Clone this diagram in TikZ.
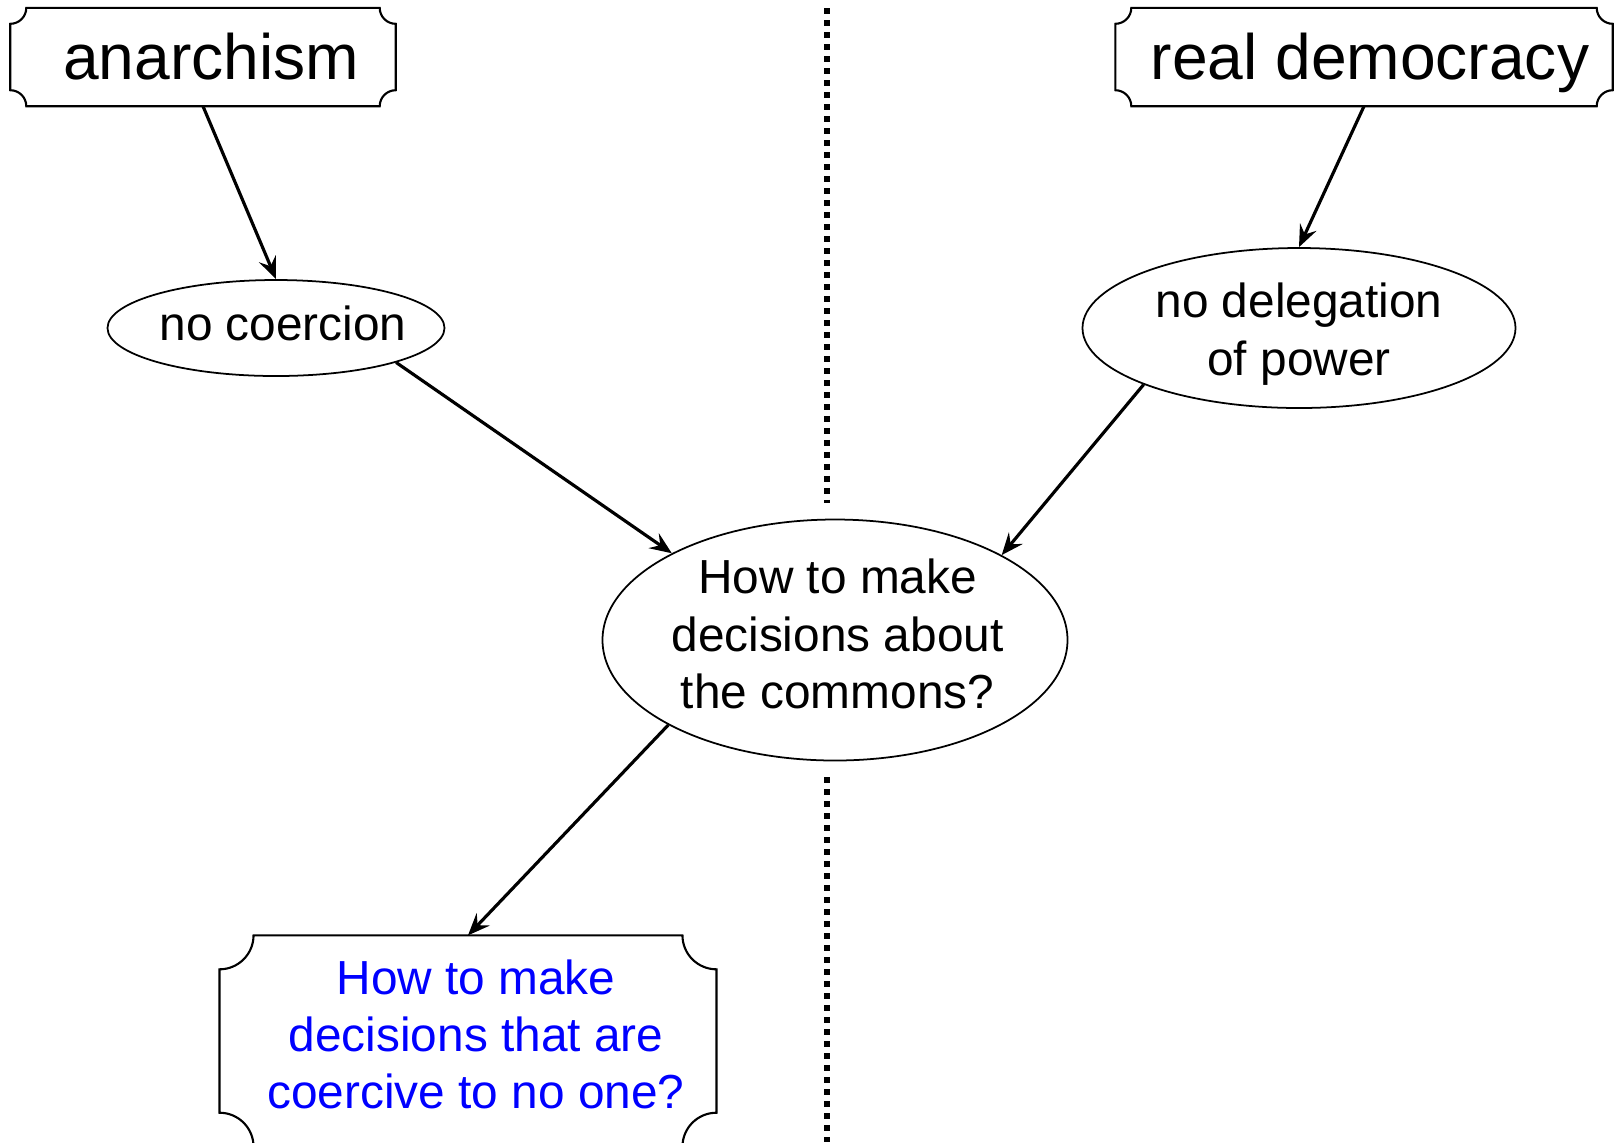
\documentclass[tikz,border=0pt]{standalone}
\usepackage{fontspec}
\setmainfont{Liberation Sans}
\usetikzlibrary{arrows.meta, calc, shapes.geometric}

% outline with scooped corners round a node: #1 node name, #2 corner radius
\newcommand{\notchbox}[2]{%
    \draw[line width=0.6pt] ($(#1.north west)+(#2,0)$) -- ($(#1.north east)+(-#2,0)$)
        arc[start angle=180, end angle=270, radius=#2]
        -- ($(#1.south east)+(0,#2)$)
        arc[start angle=90, end angle=180, radius=#2]
        -- ($(#1.south west)+(#2,0)$)
        arc[start angle=0, end angle=90, radius=#2]
        -- ($(#1.north west)+(0,-#2)$)
        arc[start angle=270, end angle=360, radius=#2] -- cycle;}

\begin{document}
\begin{tikzpicture}[
    bigtext/.style={font=\fontsize{18.25}{21.9}\selectfont},
    midtext/.style={font=\fontsize{13.6}{16.3}\selectfont, align=center},
    bubble/.style={ellipse, draw, line width=0.5pt, inner sep=0pt},
    plaque/.style={inner sep=0pt},
    link/.style={-{Stealth[length=2.2mm, width=1.8mm, inset=0.8mm]}, line width=0.9pt},
    divider/.style={line width=0.06cm, dash pattern=on 0.06cm off 0.06cm}
]
    % Page frame
    \clip (0,0) rectangle (16.19,-11.42);

    % Dotted divider, broken round the middle question
    \coordinate (divtop) at (8.27,-0.08);
    \coordinate (divgap1) at (8.27,-5.03);
    \coordinate (divgap2) at (8.27,-7.77);
    \coordinate (divbot) at (8.27,-11.42);
    \draw[divider] (divtop) -- (divgap1);
    \draw[divider] (divgap2) -- (divbot);

    % The two headings
    \node[plaque, minimum width=3.84cm, minimum height=0.97cm,
          label={[bigtext, xshift=0.08cm]center:anarchism}] (anar) at (2.03,-0.57) {};
    \node[plaque, minimum width=4.96cm, minimum height=0.97cm,
          label={[bigtext, xshift=0.06cm, yshift=-0.06cm]center:real democracy}] (demo) at (13.64,-0.57) {};
    \notchbox{anar}{0.16}
    \notchbox{demo}{0.16}

    % Principles
    \node[bubble, minimum width=3.37cm, minimum height=0.96cm,
          label={[midtext, xshift=0.07cm, yshift=0.05cm]center:no coercion}] (coer) at (2.76,-3.28) {};
    \node[bubble, minimum width=4.33cm, minimum height=1.60cm,
          label={[midtext, yshift=-0.06cm]center:{no delegation\\of power}}] (deleg) at (12.99,-3.28) {};

    % The shared question
    \node[bubble, minimum width=4.65cm, minimum height=2.41cm,
          label={[midtext, xshift=0.025cm, yshift=0.06cm]center:{How to make\\decisions about\\the commons?}}] (commons) at (8.35,-6.40) {};

    % Resulting question
    \node[plaque, minimum width=4.955cm, minimum height=2.1cm,
          label={[midtext, text=blue, xshift=0.08cm, yshift=0.065cm]center:{How to make\\decisions that are\\coercive to no one?}}] (noone) at (4.68,-10.41) {};
    \notchbox{noone}{0.34}

    % Connectors
    \draw[link] (anar.south) -- (coer.north);
    \draw[link] (demo.south) -- (deleg.north);
    \draw[link] (coer.-16) -- (commons.152.5);
    \draw[link] (deleg.200.5) -- (commons.27.4);
    \draw[link] (commons.207.7) -- (noone.north);
\end{tikzpicture}
\end{document}
